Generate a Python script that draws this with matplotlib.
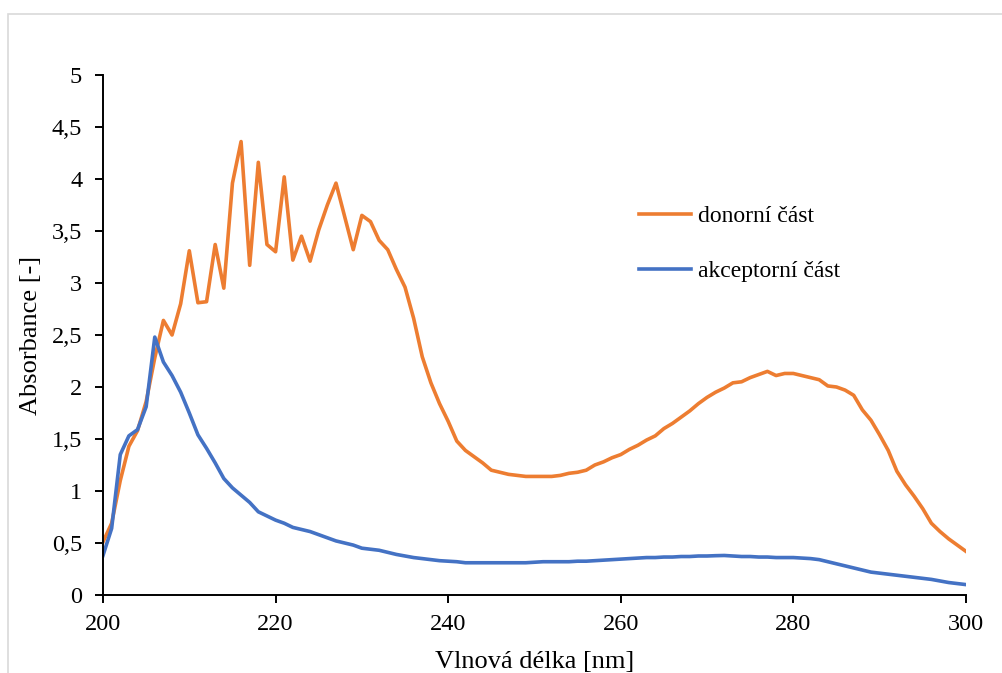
import matplotlib
matplotlib.use('Agg')
import matplotlib.pyplot as plt
from matplotlib.patches import Rectangle
from matplotlib.ticker import FuncFormatter

# vlnova delka 200-300 nm po 1 nm
wavelength = list(range(200, 301))

donor = [
    0.51, 0.69, 1.10, 1.43, 1.58, 1.86, 2.28, 2.64, 2.50, 2.80,   # 200-209
    3.31, 2.81, 2.82, 3.37, 2.95, 3.96, 4.36, 3.17, 4.16, 3.37,   # 210-219
    3.30, 4.02, 3.22, 3.45, 3.21, 3.51, 3.75, 3.96, 3.64, 3.32,   # 220-229
    3.65, 3.59, 3.41, 3.32, 3.13, 2.96, 2.66, 2.29, 2.04, 1.84,   # 230-239
    1.67, 1.48, 1.39, 1.33, 1.27, 1.20, 1.18, 1.16, 1.15, 1.14,   # 240-249
    1.14, 1.14, 1.14, 1.15, 1.17, 1.18, 1.20, 1.25, 1.28, 1.32,   # 250-259
    1.35, 1.40, 1.44, 1.49, 1.53, 1.60, 1.65, 1.71, 1.77, 1.84,   # 260-269
    1.90, 1.95, 1.99, 2.04, 2.05, 2.09, 2.12, 2.15, 2.11, 2.13,   # 270-279
    2.13, 2.11, 2.09, 2.07, 2.01, 2.00, 1.97, 1.92, 1.78, 1.68,   # 280-289
    1.54, 1.39, 1.19, 1.06, 0.95, 0.83, 0.69, 0.61, 0.54, 0.48,   # 290-299
    0.42,                                                         # 300
]

acceptor = [
    0.38, 0.64, 1.35, 1.53, 1.59, 1.81, 2.48, 2.24, 2.11, 1.95,   # 200-209
    1.75, 1.54, 1.41, 1.27, 1.12, 1.03, 0.96, 0.89, 0.80, 0.76,   # 210-219
    0.72, 0.69, 0.65, 0.63, 0.61, 0.58, 0.55, 0.52, 0.50, 0.48,   # 220-229
    0.45, 0.44, 0.43, 0.41, 0.39, 0.375, 0.36, 0.35, 0.34, 0.33,  # 230-239
    0.325, 0.32, 0.31, 0.31, 0.31, 0.31, 0.31, 0.31, 0.31, 0.31,  # 240-249
    0.315, 0.32, 0.32, 0.32, 0.32, 0.325, 0.325, 0.33, 0.335, 0.34, # 250-259
    0.345, 0.35, 0.355, 0.36, 0.36, 0.365, 0.365, 0.37, 0.37, 0.375, # 260-269
    0.375, 0.378, 0.38, 0.375, 0.37, 0.37, 0.365, 0.365, 0.36, 0.36, # 270-279
    0.36, 0.355, 0.35, 0.34, 0.32, 0.30, 0.28, 0.26, 0.24, 0.22,  # 280-289
    0.21, 0.20, 0.19, 0.18, 0.17, 0.16, 0.15, 0.135, 0.12, 0.11,  # 290-299
    0.10,                                                         # 300
]

x_ticks = [200, 220, 240, 260, 280, 300]
y_ticks = [0, 0.5, 1, 1.5, 2, 2.5, 3, 3.5, 4, 4.5, 5]

plt.rcParams['font.family'] = ['Liberation Serif', 'DejaVu Serif']

figure = plt.figure(figsize=(10.03, 6.73), dpi=100)
axes = figure.add_axes([0.1027, 0.1159, 0.8603, 0.7727])

# svetly ramecek grafu (jen horni a leva hrana)
figure.patches.append(Rectangle((8 / 1003, -0.1), 1.2, 1 - 14 / 673 + 0.1,
                                transform=figure.transFigure, fill=False,
                                edgecolor='#d9d9d9', linewidth=1.2))

axes.plot(wavelength, donor, color='#ED7D31', linewidth=2.6, label='donorní část',
          solid_joinstyle='round')
axes.plot(wavelength, acceptor, color='#4472C4', linewidth=2.6, label='akceptorní část',
          solid_joinstyle='round')

axes.set_xlim(200, 300)
axes.set_ylim(0, 5)
axes.set_xticks(x_ticks)
axes.set_yticks(y_ticks)
axes.yaxis.set_major_formatter(FuncFormatter(lambda v, p: ('%g' % v).replace('.', ',')))

for side in ['top', 'right']:
    axes.spines[side].set_visible(False)
for side in ['left', 'bottom']:
    axes.spines[side].set_linewidth(1.4)
axes.tick_params(direction='out', length=6, width=1.4, labelsize=17.5)
axes.tick_params(axis='x', pad=8)
axes.tick_params(axis='y', pad=9)

axes.set_xlabel('Vlnová délka [nm]', fontsize=19, labelpad=11)
axes.set_ylabel('Absorbance [-]', fontsize=19, labelpad=7)

axes.legend(loc='upper left', bbox_to_anchor=(0.597, 0.789), frameon=False,
            fontsize=17, handlelength=2.2, handletextpad=0.3, labelspacing=1.4)

figure.savefig('out.png', dpi=100)
plt.close(figure)
